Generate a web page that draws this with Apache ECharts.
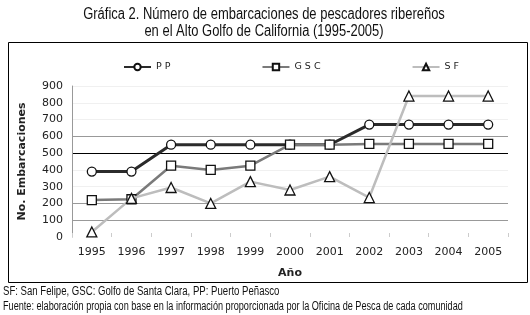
<!DOCTYPE html>
<html>
<head>
<meta charset="utf-8">
<script src="https://cdn.jsdelivr.net/npm/echarts@6/dist/echarts.min.js"></script>
<style>
  html, body { margin: 0; padding: 0; background: #fff; }
  #chart { width: 530px; height: 315px; }
</style>
</head>
<body>
<div id="chart"></div>
<script>
// años y número de embarcaciones por comunidad
const years = ['1995', '1996', '1997', '1998', '1999', '2000', '2001', '2002', '2003', '2004', '2005']
const pp = [390, 390, 550, 550, 550, 550, 550, 670, 670, 670, 670]
const gsc = [220, 225, 425, 400, 425, 550, 550, 555, 555, 555, 555]
const sf = [30, 230, 295, 200, 330, 280, 360, 235, 840, 840, 840]

const myChart = echarts.init(document.getElementById('chart'))

const serieOptions = {
  type: 'line',
  symbolSize: 9,
  animation: false,
  itemStyle: { color: '#fff', borderColor: '#111', borderWidth: 1.3 }
}

const series = [
  { name: 'PP', data: pp, symbol: 'circle', lineStyle: { color: '#2b2b2b', width: 3 }, z: 2 },
  { name: 'GSC', data: gsc, symbol: 'rect', lineStyle: { color: '#7a7a7a', width: 2.5 }, z: 3 },
  { name: 'SF', data: sf, symbol: 'triangle', symbolSize: 10, lineStyle: { color: '#bdbdbd', width: 2.5 }, z: 4 }
].map(item => Object.assign({}, serieOptions, item))

const font = 'DejaVu Sans'
const narrow = '"Liberation Sans", Arial, sans-serif'

// texto "angosto" imitado con scaleX
const narrowText = (text, x, y, size, align, scale) => ({
  type: 'text',
  x: x,
  y: y,
  scaleX: scale,
  style: {
    text: text,
    x: 0,
    y: 0,
    textAlign: align,
    textVerticalAlign: 'middle',
    font: size + 'px ' + narrow,
    fill: '#111'
  }
})

myChart.setOption({
  legend: {
    top: 57,
    left: 118,
    itemGap: 91,
    itemWidth: 27,
    itemHeight: 8,
    data: series.map(item => item.name),
    formatter: name => name.split('').join(' '),
    textStyle: { fontFamily: font, fontSize: 9.5, color: '#222' }
  },
  grid: { left: 72, right: 22, top: 86, bottom: 78 },
  xAxis: {
    type: 'category',
    data: years,
    name: 'Año',
    nameLocation: 'middle',
    nameGap: 31,
    nameTextStyle: { fontFamily: font, fontSize: 11, fontWeight: 'bold', color: '#222' },
    axisLine: { show: false },
    axisTick: { show: true, inside: true, length: 4, lineStyle: { color: '#ccc' } },
    axisLabel: { fontFamily: font, fontSize: 11, color: '#222', margin: 10 }
  },
  yAxis: {
    type: 'value',
    min: 0,
    max: 900,
    interval: 100,
    name: 'No. Embarcaciones',
    nameLocation: 'middle',
    nameGap: 44,
    nameTextStyle: { fontFamily: font, fontSize: 11, fontWeight: 'bold', color: '#222' },
    axisLine: { show: true, lineStyle: { color: '#999' } },
    axisTick: { show: false },
    axisLabel: { fontFamily: font, fontSize: 11, color: '#222', margin: 9 },
    splitLine: {
      lineStyle: {
        color: ['#fff', '#999', '#999', '#f0f0f0', '#f0f0f0', '#000', '#999', '#f0f0f0', '#f0f0f0', '#f0f0f0']
      }
    }
  },
  graphic: [
    {
      type: 'rect',
      shape: { x: 8.5, y: 42.5, width: 519, height: 240 },
      style: { fill: 'none', stroke: '#000', lineWidth: 1 },
      z: -1
    },
    narrowText('Gráfica 2. Número de embarcaciones de pescadores ribereños', 264, 15, 16, 'center', 0.81),
    narrowText('en el Alto Golfo de California (1995-2005)', 264, 32, 16, 'center', 0.81),
    narrowText('SF: San Felipe, GSC: Golfo de Santa Clara, PP: Puerto Peñasco', 3, 292, 12, 'left', 0.8),
    narrowText('Fuente: elaboración propia con base en la información proporcionada por la Oficina de Pesca de cada comunidad', 3, 307, 12, 'left', 0.76)
  ],
  series
})
</script>
</body>
</html>
